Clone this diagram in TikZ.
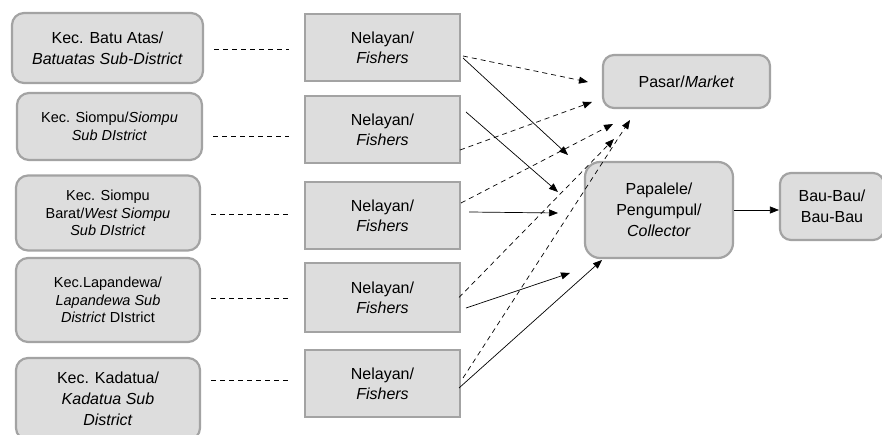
\documentclass[tikz,border=0pt]{standalone}
\usepackage{fontspec}
\setmainfont{Liberation Sans}
\usetikzlibrary{arrows.meta,calc}
\definecolor{boxfill}{RGB}{221,221,221}
\definecolor{boxline}{RGB}{163,163,163}

\begin{document}
\begin{tikzpicture}[x=1pt, y=-1pt, >={Triangle[length=9pt,width=7pt]},
  distbox/.style={rectangle, rounded corners=12pt, draw=boxline, fill=boxfill,
                  line width=2.2pt, align=center, inner sep=2pt},
  fishbox/.style={rectangle, draw=boxline, fill=boxfill, line width=2pt,
                  align=center, inner sep=2pt, minimum width=155pt, minimum height=67pt,
                  font=\fontsize{16}{20}\selectfont},
  destbox/.style={distbox, rounded corners=11pt},
  bigtxt/.style={font=\fontsize{16}{21}\selectfont},
  smalltxt/.style={font=\fontsize{14.5}{17.5}\selectfont},
  dshln/.style={dash pattern=on 5pt off 4pt, line width=0.7pt},
  solarr/.style={->, line width=0.7pt},
  dsharr/.style={->, dash pattern=on 5pt off 4pt, line width=0.7pt}]
  \useasboundingbox (0,0) rectangle (882,435);

  % sub-districts
  \node[distbox, bigtxt, minimum width=191pt, minimum height=70pt] (l1) at (107.5,48)
    {Kec. Batu Atas/\\\textit{Batuatas Sub-District}};
  \node[distbox, smalltxt, minimum width=185pt, minimum height=67pt] (l2) at (109.5,126.5)
    {Kec. Siompu/\textit{Siompu}\\\textit{Sub DIstrict}};
  \node[distbox, smalltxt, minimum width=184pt, minimum height=75pt] (l3) at (108,213)
    {Kec. Siompu\\Barat/\textit{West Siompu}\\\textit{Sub DIstrict}};
  \node[distbox, smalltxt, minimum width=184pt, minimum height=84pt] (l4) at (108,300)
    {Kec.Lapandewa/\\\textit{Lapandewa Sub}\\\textit{District} DIstrict};
  \node[distbox, bigtxt, minimum width=184pt, minimum height=82pt] (l5) at (108,399)
    {Kec. Kadatua/\\\textit{Kadatua Sub}\\\textit{District}};

  % fishers
  \node[fishbox] (f1) at (382.5,48) {Nelayan/\\\textit{Fishers}};
  \node[fishbox] (f2) at (382.5,129.5) {Nelayan/\\\textit{Fishers}};
  \node[fishbox] (f3) at (382.5,215.5) {Nelayan/\\\textit{Fishers}};
  \node[fishbox, minimum height=69pt] (f4) at (382.5,297.5) {Nelayan/\\\textit{Fishers}};
  \node[fishbox] (f5) at (382.5,383.5) {Nelayan/\\\textit{Fishers}};

  % market, collector, Bau-Bau
  \node[destbox, bigtxt, minimum width=167pt, minimum height=53pt] (mkt) at (686.5,81.5)
    {Pasar/\textit{Market}};
  \node[destbox, bigtxt, rounded corners=15pt, minimum width=148pt, minimum height=96pt]
    (col) at (659,210) {Papalele/\\Pengumpul/\\\textit{Collector}};
  \node[destbox, bigtxt, minimum width=104pt, minimum height=67pt] (bau) at (832,206.5)
    {Bau-Bau/\\Bau-Bau};

  % arrow ends
  \coordinate (mk1) at (588,82);
  \coordinate (mk2) at (592,102);
  \coordinate (mk3) at (613,124);
  \coordinate (mk4) at (614,139);
  \coordinate (mk5) at (630,120);
  \coordinate (cl1) at (568,155);
  \coordinate (cl2) at (558,192);
  \coordinate (cl3) at (558,213);
  \coordinate (cl4) at (570,273);
  \coordinate (cl5) at (602,260);

  % sub-district to fishers
  \foreach \i/\y in {1/49, 2/136, 3/214, 4/298, 5/380}
    \draw[dshln] ($(l\i.east |- 0,\y)+(10,0)$) -- ($(f\i.west |- 0,\y)+(-15,0)$);

  % fishers to market and collector
  \draw[dsharr] ($(f1.east)+(2,8)$) -- (mk1);
  \draw[solarr] ($(f1.east)+(2,10)$) -- (cl1);
  \draw[solarr] ($(f2.east)+(5,-17.5)$) -- (cl2);
  \draw[dsharr] ($(f2.east)+(-1,20.5)$) -- (mk2);
  \draw[dsharr] ($(f3.east)+(0,-12.5)$) -- (mk3);
  \draw[solarr] ($(f3.east)+(8,-3.5)$) -- (cl3);
  \draw[dsharr] ($(f4.east)+(-2,0)$) -- (mk4);
  \draw[solarr] ($(f4.east)+(5,10.5)$) -- (cl4);
  \draw[dsharr] ($(f5.east)+(2,-5.5)$) -- (mk5);
  \draw[solarr] ($(f5.east)+(-2,4.5)$) -- (cl5);

  \draw[solarr] (col.east) -- (col.east -| bau.west);
\end{tikzpicture}
\end{document}
